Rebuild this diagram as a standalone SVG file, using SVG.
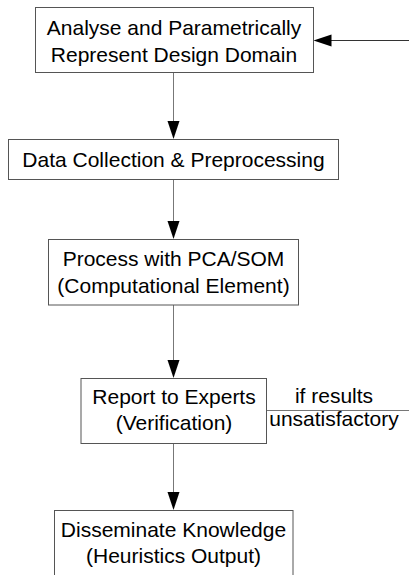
<svg xmlns="http://www.w3.org/2000/svg" width="409" height="575" viewBox="0 0 409 575">
<style>
.box{fill:#fff;stroke:#555;stroke-width:1}
.t{font-family:"Liberation Sans",Arial,sans-serif;font-size:21px;fill:#000;text-anchor:middle}
.c{stroke:#777;stroke-width:1;fill:none}
.ah{fill:#000}
</style>
<rect width="409" height="575" fill="#fff"/>
<g id="connectors">
<line class="c" x1="173.5" y1="73" x2="173.5" y2="121"/>
<polygon class="ah" points="167.5,121 179.5,121 173.5,139"/>
<line class="c" x1="173.5" y1="179.5" x2="173.5" y2="221"/>
<polygon class="ah" points="167.5,221 179.5,221 173.5,239"/>
<line class="c" x1="173.5" y1="305" x2="173.5" y2="360"/>
<polygon class="ah" points="167.5,360 179.5,360 173.5,378"/>
<line class="c" x1="173.5" y1="443.5" x2="173.5" y2="492"/>
<polygon class="ah" points="167.5,492 179.5,492 173.5,510"/>
<line class="c" x1="266.5" y1="410.5" x2="409" y2="410.5"/>
<line x1="331" y1="40.5" x2="409" y2="40.5" stroke="#333" stroke-width="1"/>
<polygon class="ah" points="331.5,34.5 331.5,46.5 313.5,40.5"/>
<text class="t" x="334" y="403">if results</text>
<text class="t" x="334" y="426">unsatisfactory</text>
</g>
<g id="n1">
<rect class="box" x="35.5" y="7.5" width="278" height="65"/>
<text class="t" x="174" y="35">Analyse and Parametrically</text>
<text class="t" x="174" y="62">Represent Design Domain</text>
</g>
<g id="n2">
<rect class="box" x="8.5" y="139.5" width="330" height="40"/>
<text class="t" x="173.5" y="166.5">Data Collection &amp; Preprocessing</text>
</g>
<g id="n3">
<rect class="box" x="48.5" y="239.5" width="250" height="65.5"/>
<text class="t" x="173.5" y="265.5">Process with PCA/SOM</text>
<text class="t" x="173.5" y="292.5">(Computational Element)</text>
</g>
<g id="n4">
<rect class="box" x="81" y="378.5" width="185.5" height="65"/>
<text class="t" x="174" y="404">Report to Experts</text>
<text class="t" x="174" y="430">(Verification)</text>
</g>
<g id="n5">
<rect class="box" x="54.5" y="510.5" width="238.5" height="80"/>
<text class="t" x="173.5" y="537">Disseminate Knowledge</text>
<text class="t" x="173.5" y="563">(Heuristics Output)</text>
</g>
</svg>
